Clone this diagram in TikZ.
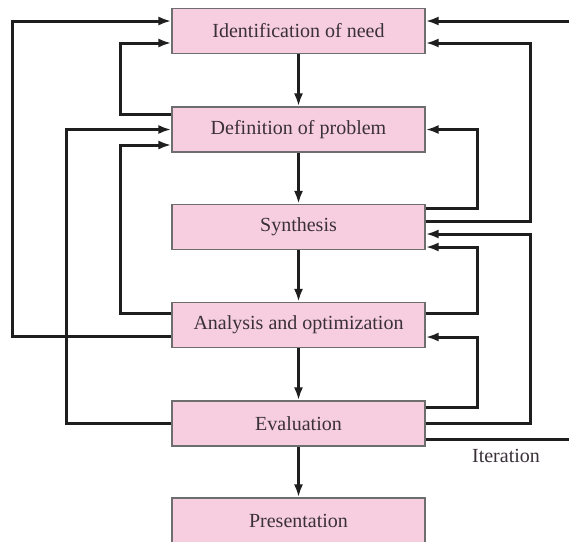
\documentclass[tikz,border=0pt]{standalone}
\usepackage{fontspec}
\setmainfont{Liberation Serif}
\usepackage{tikz}
\usetikzlibrary{arrows.meta, positioning, calc}
\definecolor{BoxPink}{HTML}{F6CEE0}
\definecolor{BoxEdge}{HTML}{6E6E6E}
\definecolor{InkGray}{HTML}{3A3038}
\definecolor{LineDark}{HTML}{1E1E1E}

\tikzset{
    stage/.style={rectangle, fill=BoxPink, draw=BoxEdge, line width=1.2pt,
          minimum width=253pt, minimum height=45pt, text=InkGray,
          font=\fontsize{20}{24}\selectfont},
    flow/.style={-{Latex[length=13pt,width=9pt]}, line width=3pt, draw=LineDark},
    fback/.style={flow},
}

\begin{document}
\begin{tikzpicture}[x=1pt, y=-1pt]
    \clip (0,0) rectangle (569,541);
    \fill[white] (0,0) rectangle (569,541);

    % Design phases
    \node[stage] (need) at (298.5,31) {Identification of need};
    \node[stage] (prob) at (298.5,129.5) {Definition of problem};
    \node[stage] (synth) at (298.5,227) {Synthesis};
    \node[stage] (anal) at (298.5,325) {Analysis and optimization};
    \node[stage] (eval) at (298.5,423.5) {Evaluation};
    \node[stage] (pres) at (298.5,520.5) {Presentation};

    % Forward path
    \draw[flow] (need) -- (prob);
    \draw[flow] (prob) -- (synth);
    \draw[flow] (synth) -- (anal);
    \draw[flow] (anal) -- (eval);
    \draw[flow] (eval) -- (pres);

    % Feedback on the left
    \draw[fback] ([yshift=-11pt]anal.west) -- ++(-159,0) |- ([yshift=10pt]need.west);
    \draw[fback] ([yshift=15.5pt]prob.west) -- ++(-51,0) |- ([yshift=-12pt]need.west);
    \draw[fback] ([yshift=0pt]eval.west) -- ++(-105,0) |- ([yshift=0pt]prob.west);
    \draw[fback] ([yshift=12pt]anal.west) -- ++(-51,0) |- ([yshift=-15.5pt]prob.west);

    % Feedback on the right
    \draw[fback] ([yshift=6pt]synth.east) -- ++(105,0) |- ([yshift=-12pt]need.east);
    \draw[fback] ([yshift=19pt]synth.east) -- ++(52,0) |- ([yshift=0pt]prob.east);
    \draw[fback] ([yshift=0pt]eval.east) -- ++(105,0) |- ([yshift=-7pt]synth.east);
    \draw[fback] ([yshift=12pt]anal.east) -- ++(52,0) |- ([yshift=-20pt]synth.east);
    \draw[fback] ([yshift=16.5pt]eval.east) -- ++(52,0) |- ([yshift=-12pt]anal.east);

    % Iteration
    \draw[fback] ([yshift=-15.5pt]eval.east) -- ++(170,0) |- ([yshift=10pt]need.east);
    \node[text=InkGray, font=\fontsize{20}{24}\selectfont] (iter) at (506,456) {Iteration};
\end{tikzpicture}
\end{document}
